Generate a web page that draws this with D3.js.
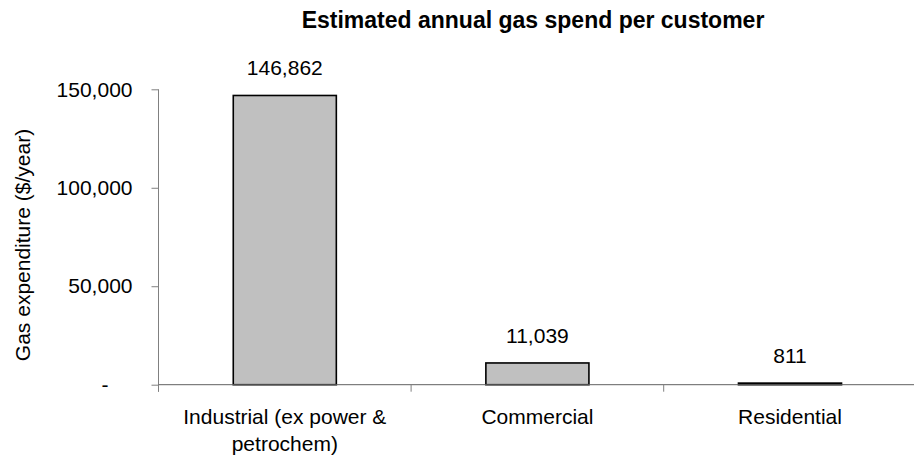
<!DOCTYPE html>
<html>
<head>
<meta charset="utf-8">
<script src="https://cdn.jsdelivr.net/npm/d3@7"></script>
<style>
  html, body { margin: 0; padding: 0; background: #fff; }
  svg { display: block; font-family: Arial, "Liberation Sans", sans-serif; }
</style>
</head>
<body>
<svg id="chart" width="914" height="457"></svg>
<script>
const categories = ["Industrial (ex power & petrochem)", "Commercial", "Residential"];
const values = [146862, 11039, 811];
const valueLabels = ["146,862", "11,039", "811"];
const yTicks = [0, 50000, 100000, 150000];
const yTickLabels = ["-", "50,000", "100,000", "150,000"];
const title = "Estimated annual gas spend per customer";
const yTitle = "Gas expenditure ($/year)";

(function () {
const svg = d3.select("#chart");
const pLeft = 158.5, pRight = 916.3, pTop = 89.3, pBottom = 384.7;

const x = d3.scaleBand().domain(categories).range([pLeft, pRight]).padding(0);
const y = d3.scaleLinear().domain([0, 150000]).range([pBottom, pTop]);
const barW = x.bandwidth() * 0.408;

// Title
svg.append("text")
  .attr("x", 533).attr("y", 28.3)
  .attr("text-anchor", "middle")
  .style("font-weight", "bold").style("font-size", "23px")
  .text(title);

// Y axis
const yAxis = d3.axisLeft(y)
  .tickValues(yTicks)
  .tickFormat((d, i) => yTickLabels[i])
  .tickSizeInner(7).tickSizeOuter(0).tickPadding(19);
const gy = svg.append("g").attr("transform", `translate(${pLeft},0)`).call(yAxis);
gy.select(".domain").remove();
gy.selectAll(".tick line").attr("stroke", "#808080");
gy.selectAll(".tick text").style("font-size", "21px").attr("fill", "#000")
  .attr("dx", d => d === 0 ? -24 : 0);
gy.append("line").attr("x1", 0).attr("x2", 0).attr("y1", pTop).attr("y2", pBottom + 7)
  .attr("stroke", "#808080");

// Y title
svg.append("text")
  .attr("transform", `translate(29.5,245) rotate(-90)`)
  .attr("text-anchor", "middle")
  .style("font-size", "21px")
  .text(yTitle);

// Bars
svg.append("g").selectAll("rect").data(categories).join("rect")
  .attr("x", d => x(d) + (x.bandwidth() - barW) / 2)
  .attr("width", barW)
  .attr("y", (d, i) => y(values[i]))
  .attr("height", (d, i) => pBottom - y(values[i]))
  .attr("fill", "#C0C0C0")
  .attr("stroke", "#000")
  .attr("stroke-width", 1.6);

// Value labels
svg.append("g").selectAll("text").data(categories).join("text")
  .attr("x", d => x(d) + x.bandwidth() / 2)
  .attr("y", (d, i) => y(values[i]) - 20)
  .attr("text-anchor", "middle")
  .style("font-size", "21px")
  .text((d, i) => valueLabels[i]);

// X axis
const xAxis = d3.axisBottom(x).tickSize(0).tickPadding(0);
const gx = svg.append("g").attr("transform", `translate(0,${pBottom})`).call(xAxis);
gx.select(".domain").attr("stroke", "#606060").attr("d", `M${pLeft},0H${pRight}`);
gx.selectAll(".tick text").style("font-size", "21px").attr("fill", "#000").attr("dy", 0).attr("y", 0)
  .each(function(d) {
    const t = d3.select(this);
    const words = d.split(" ");
    t.text(null);
    let line = [], lineNo = 0;
    let tspan = t.append("tspan").attr("x", 0).attr("y", 39);
    for (const w of words) {
      line.push(w);
      tspan.text(line.join(" "));
      if (tspan.node().getComputedTextLength() > 230 && line.length > 1) {
        line.pop();
        tspan.text(line.join(" "));
        line = [w];
        lineNo++;
        tspan = t.append("tspan").attr("x", 0).attr("y", 39 + lineNo * 27.5).text(w);
      }
    }
  });
// boundary ticks
gx.selectAll(".btick").data(categories.concat(["__end"])).join("line")
  .attr("class", "btick")
  .attr("x1", (d, i) => i < categories.length ? x(d) : pRight)
  .attr("x2", (d, i) => i < categories.length ? x(d) : pRight)
  .attr("y1", 0).attr("y2", 7)
  .attr("stroke", "#808080");
})();
</script>
</body>
</html>
